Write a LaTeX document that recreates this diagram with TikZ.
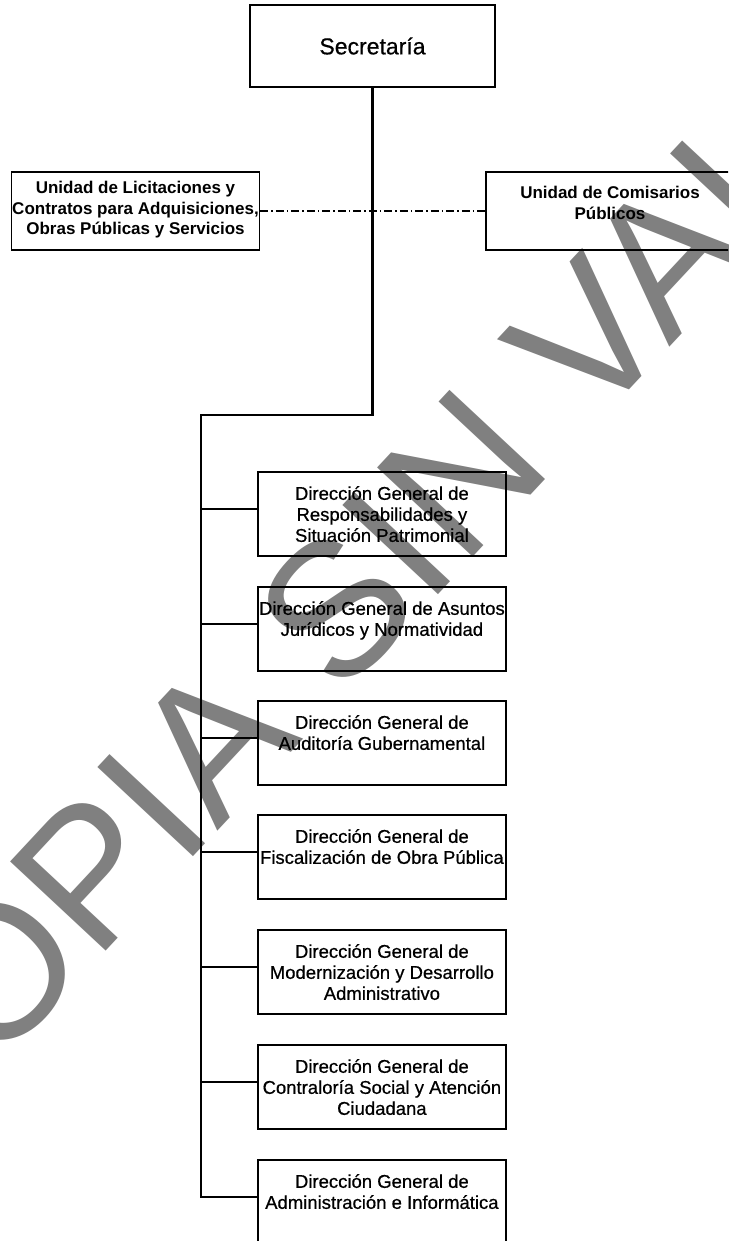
\documentclass[tikz,border=0pt]{standalone}
\usepackage{fontspec}
\setmainfont{Liberation Sans}
\newfontfamily\medfont[FakeBold=0.6]{Liberation Sans}
\definecolor{wmgray}{RGB}{128,128,128}
\begin{document}
\begin{tikzpicture}[x=1pt,y=-1pt,
  box/.style={draw=black, line width=1.8pt, minimum width=248pt, minimum height=84pt, inner sep=0pt, anchor=north west},
  boxtext/.style={align=center, inner sep=0pt, anchor=north, font=\medfont\fontsize{18.5}{21}\selectfont},
  topbox/.style={draw=black, line width=1.8pt, minimum width=248pt, minimum height=78pt, inner sep=0pt},
  toptext/.style={align=center, inner sep=0pt, font=\bfseries\fontsize{17}{20.5}\selectfont},
  link/.style={line width=2.2pt},
  dotlink/.style={line width=1.3pt, dash pattern=on 8pt off 3pt on 1.5pt off 3pt}]
\useasboundingbox (0,0) rectangle (728,1241);
\clip (0,0) rectangle (728,1241);
\fill[white] (0,0) rectangle (728,1241);
% watermark
\node[rotate=47, anchor=base west, inner sep=0pt, text=wmgray, font=\fontsize{190}{230}\selectfont] (wm) at (-99,1171) {COPIA SIN VALOR};
% top
\node[draw=black, line width=1.8pt, minimum width=245pt, minimum height=82pt, inner sep=0pt, font=\medfont\fontsize{23}{27}\selectfont] (sec) at (372.5,46) {Secretaría};
\node[topbox] (ul) at (135.5,211) {};
\node[toptext] (ult) at (135.5,210) {Unidad de Licitaciones y\\Contratos para Adquisiciones,\\Obras Públicas y Servicios};
\node[topbox] (ur) at (610,211) {};
\node[toptext] (urt) at (610,203) {Unidad de Comisarios\\Públicos};
\draw[dotlink] (ul.east) -- (ur.west);
% boxes
\foreach \i/\t in {1/471,2/586,3/700,4/814,5/929,6/1044,7/1159}{
  \node[box] (b\i) at (257,\t) {};
}
\node[boxtext] (t1) at ([yshift=-15pt]b1.north) {Dirección General de\\Responsabilidades y\\Situación Patrimonial};
\node[boxtext] (t2) at ([yshift=-15pt]b2.north) {Dirección General de Asuntos\\Jurídicos y Normatividad};
\node[boxtext] (t3) at ([yshift=-15pt]b3.north) {Dirección General de\\Auditoría Gubernamental};
\node[boxtext] (t4) at ([yshift=-15pt]b4.north) {Dirección General de\\Fiscalización de Obra Pública};
\node[boxtext] (t5) at ([yshift=-15pt]b5.north) {Dirección General de\\Modernización y Desarrollo\\Administrativo};
\node[boxtext] (t6) at ([yshift=-15pt]b6.north) {Dirección General de\\Contraloría Social y Atención\\Ciudadana};
\node[boxtext] (t7) at ([yshift=-15pt]b7.north) {Dirección General de\\Administración e Informática};
% connectors
\coordinate (jr) at (372.5,415);
\coordinate (jl) at (201,415);
\foreach \i in {1,...,7}{
  \path (b\i.north west) ++(0,38) coordinate (k\i);
}
\draw[link] (sec.south) -- (jr) -- (jl) -- (jl |- k7) -- (k7);
\foreach \i in {1,...,6}{
  \draw[link] (jl |- k\i) -- (k\i);
}
\end{tikzpicture}
\end{document}
